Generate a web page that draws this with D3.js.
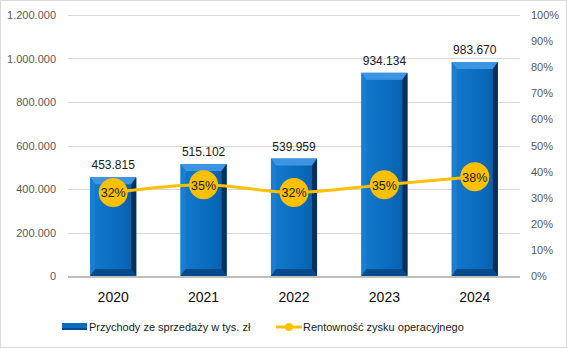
<!DOCTYPE html>
<html lang="pl">
  <head>
    <meta charset="utf-8">
    <title>Przychody i rentownosc</title>
    <script src="https://d3js.org/d3.v7.min.js"></script>
    <style>
      body { margin: 0; background: #fff; }
      text { font-family: "Liberation Sans", Arial, sans-serif; }
    </style>
  </head>
  <body>
    <script>

      // data
      const years = ["2020", "2021", "2022", "2023", "2024"];
      const revenue = [453815, 515102, 539959, 934134, 983670];
      const margin_pct = [32, 35, 32, 35, 38];
      const leftTicks = [0, 200000, 400000, 600000, 800000, 1000000, 1200000];
      const rightTicks = [0, 10, 20, 30, 40, 50, 60, 70, 80, 90, 100];
      const legendLabels = ["Przychody ze sprzedaży w tys. zł", "Rentowność zysku operacyjnego"];

      const w = 567, h = 348;
      const plot = {left: 68, right: 520, top: 15, bottom: 276};

      const fmt = d3.formatLocale({decimal: ",", thousands: ".", grouping: [3], currency: ["", ""]}).format(",d");

      const svg = d3.select("body").append("svg")
                    .attr("width", w)
                    .attr("height", h);

      // face gradient for the bars
      const defs = svg.append("defs");
      const grad = defs.append("linearGradient").attr("id", "face").attr("x1", 0).attr("x2", 1).attr("y1", 0).attr("y2", 0);
      grad.append("stop").attr("offset", "0%").attr("stop-color", "#1479cc");
      grad.append("stop").attr("offset", "60%").attr("stop-color", "#0a6cbf");
      grad.append("stop").attr("offset", "100%").attr("stop-color", "#075ea8");

      // background + border
      svg.append("rect")
         .attr("x", 0.5).attr("y", 0.5)
         .attr("width", w - 1).attr("height", h - 1)
         .attr("fill", "white")
         .attr("stroke", "#d9d9d9");

      const x = d3.scaleBand()
                  .domain(years)
                  .range([plot.left, plot.right])
                  .paddingInner(0.49)
                  .paddingOuter(0.245);

      const yL = d3.scaleLinear().domain([0, 1200000]).range([plot.bottom, plot.top]);
      const yR = d3.scaleLinear().domain([0, 100]).range([plot.bottom, plot.top]);

      // gridlines
      svg.append("g")
         .selectAll("line")
         .data(leftTicks.slice(1))
         .join("line")
         .attr("x1", plot.left).attr("x2", plot.right)
         .attr("y1", d => Math.round(yL(d)) + 0.5)
         .attr("y2", d => Math.round(yL(d)) + 0.5)
         .attr("stroke", "#d9d9d9");

      // left axis
      const leftAxis = d3.axisLeft(yL).tickValues(leftTicks).tickSize(0).tickPadding(12).tickFormat(fmt);
      const gl = svg.append("g")
                    .attr("transform", `translate(${plot.left}, 0)`)
                    .call(leftAxis);
      gl.select(".domain").remove();
      gl.selectAll("text").attr("fill", "#595959").style("font-size", "11px");

      // right axis
      const rightAxis = d3.axisRight(yR).tickValues(rightTicks).tickSize(0).tickPadding(11).tickFormat(d => d + "%");
      const gr = svg.append("g")
                    .attr("transform", `translate(${plot.right}, 0)`)
                    .call(rightAxis);
      gr.select(".domain").remove();
      gr.selectAll("text").attr("fill", "#595959").style("font-size", "11px");

      // bevelled bars
      const bw = x.bandwidth();
      const bars = svg.append("g").selectAll("g")
                      .data(years.map((k, i) => ({key: k, value: revenue[i]})))
                      .join("g");

      bars.each(function(d) {
        const g = d3.select(this);
        const x0 = x(d.key), x1 = x0 + bw;
        const y0 = yL(d.value), y1 = yL(0);
        const b = 7, s = 5;
        const pts = a => a.map(p => p.join(",")).join(" ");
        // face
        g.append("rect").attr("x", x0).attr("y", y0).attr("width", bw).attr("height", y1 - y0).attr("fill", "url(#face)");
        // top
        g.append("polygon").attr("points", pts([[x0, y0], [x1, y0], [x1 - s, y0 + b], [x0 + s, y0 + b]])).attr("fill", "#3b95e0");
        // left
        g.append("polygon").attr("points", pts([[x0, y0], [x0 + s, y0 + b], [x0 + s, y1 - b], [x0, y1]])).attr("fill", "#1a7ed2");
        // right
        g.append("polygon").attr("points", pts([[x1, y0], [x1, y1], [x1 - s, y1 - b], [x1 - s, y0 + b]])).attr("fill", "#06305a");
        // bottom
        g.append("polygon").attr("points", pts([[x0, y1], [x1, y1], [x1 - s, y1 - b], [x0 + s, y1 - b]])).attr("fill", "#054a8a");
        // value label
        g.append("text")
         .attr("x", x0 + bw / 2).attr("y", y0 - 8)
         .attr("text-anchor", "middle")
         .style("font-size", "12px")
         .attr("fill", "#1a1a1a")
         .text(fmt(d.value));
      });

      // zero axis line
      svg.append("line")
         .attr("x1", plot.left).attr("x2", plot.right)
         .attr("y1", plot.bottom + 1).attr("y2", plot.bottom + 1)
         .attr("stroke", "#bfbfbf").attr("stroke-width", 2);

      // category labels
      svg.append("g").selectAll("text")
         .data(years)
         .join("text")
         .attr("x", d => x(d) + bw / 2)
         .attr("y", 302)
         .attr("text-anchor", "middle")
         .style("font-size", "14px")
         .attr("fill", "#0d0d0d")
         .text(d => d);

      // line series
      const pts = years.map((k, i) => ({key: k, value: margin_pct[i]}));
      const line = d3.line()
                     .x(d => x(d.key) + bw / 2)
                     .y(d => yR(d.value))
                     .curve(d3.curveCatmullRom.alpha(0.5));

      svg.append("path")
         .datum(pts)
         .attr("d", line)
         .attr("fill", "none")
         .attr("stroke", "#ffc000")
         .attr("stroke-width", 3);

      const dots = svg.append("g").selectAll("g")
                      .data(pts)
                      .join("g")
                      .attr("transform", d => `translate(${x(d.key) + bw / 2}, ${yR(d.value)})`);
      dots.append("circle").attr("r", 14.5).attr("fill", "#ffc000");
      dots.append("text")
          .attr("y", 5)
          .attr("text-anchor", "middle")
          .style("font-size", "12.5px")
          .attr("fill", "#1a1a1a")
          .text(d => d.value + "%");

      // legend
      const lg = svg.append("g").attr("transform", "translate(0, 327)");
      lg.append("rect").attr("x", 62).attr("y", -4).attr("width", 25).attr("height", 7).attr("fill", "#0a6cbf");
      lg.append("rect").attr("x", 62).attr("y", 1).attr("width", 25).attr("height", 2).attr("fill", "#054a8a");
      lg.append("text").attr("x", 89).attr("y", 4).style("font-size", "11px").attr("fill", "#1a1a1a").text(legendLabels[0]);
      lg.append("line").attr("x1", 276).attr("x2", 302).attr("y1", 0).attr("y2", 0).attr("stroke", "#ffc000").attr("stroke-width", 3);
      lg.append("circle").attr("cx", 289).attr("cy", 0).attr("r", 4).attr("fill", "#ffc000");
      lg.append("text").attr("x", 303).attr("y", 4).style("font-size", "11px").attr("fill", "#1a1a1a").text(legendLabels[1]);

    </script>
  </body>
</html>
